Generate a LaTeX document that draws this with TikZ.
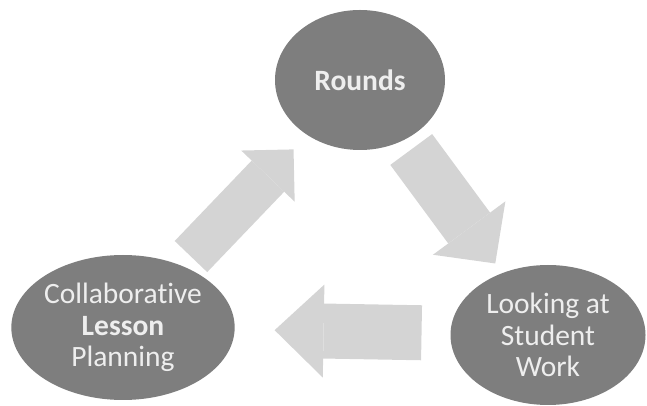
\documentclass[tikz,border=0pt]{standalone}
\usepackage{fontspec}
\setmainfont{Carlito}[Ligatures=NoCommon]
\usetikzlibrary{arrows.meta,shapes.geometric}

\definecolor{bubblegray}{RGB}{126,126,126}
\definecolor{arrowgray}{RGB}{212,212,212}
\definecolor{labelwhite}{RGB}{238,238,238}

\begin{document}
\begin{tikzpicture}[x=1pt, y=1pt,
		bubble/.style={ellipse, fill=bubblegray, text=labelwhite, inner sep=0pt, outer sep=0pt, align=center, font=\fontsize{29.5}{31.5}\selectfont},
		blockarrow/.style={draw=arrowgray, line cap=butt}]
				% 1. 画布范围
				\useasboundingbox (0,0) rectangle (647,406);
				
				% 2. 三个椭圆
				\node[bubble, minimum width=170pt, minimum height=140pt] (rounds) at (360,326) {\textbf{Rounds}};
				\node[bubble, minimum width=220pt, minimum height=145pt] (lesson) at (123,78.5) {Collaborative\\\textbf{Lesson}\\Planning};
				\node[bubble, minimum width=195pt, minimum height=140pt] (work) at (548,71) {Looking at\\Student\\Work};
				
				% 3. 循环粗箭头
				\draw[blockarrow, line width=45pt, -{Triangle[width=74pt, length=37pt, line width=0pt]}, shorten <=13pt, shorten >=20pt] (lesson) -- (rounds);
				\draw[blockarrow, line width=52pt, -{Triangle[width=90pt, length=44pt, line width=0pt]}, shorten <=12pt, shorten >=12pt] (rounds) -- (work);
				\draw[blockarrow, line width=55pt, -{Triangle[width=93pt, length=49pt, line width=0pt]}, shorten <=29pt, shorten >=40pt] (work) -- (lesson);
			\end{tikzpicture}
\end{document}
